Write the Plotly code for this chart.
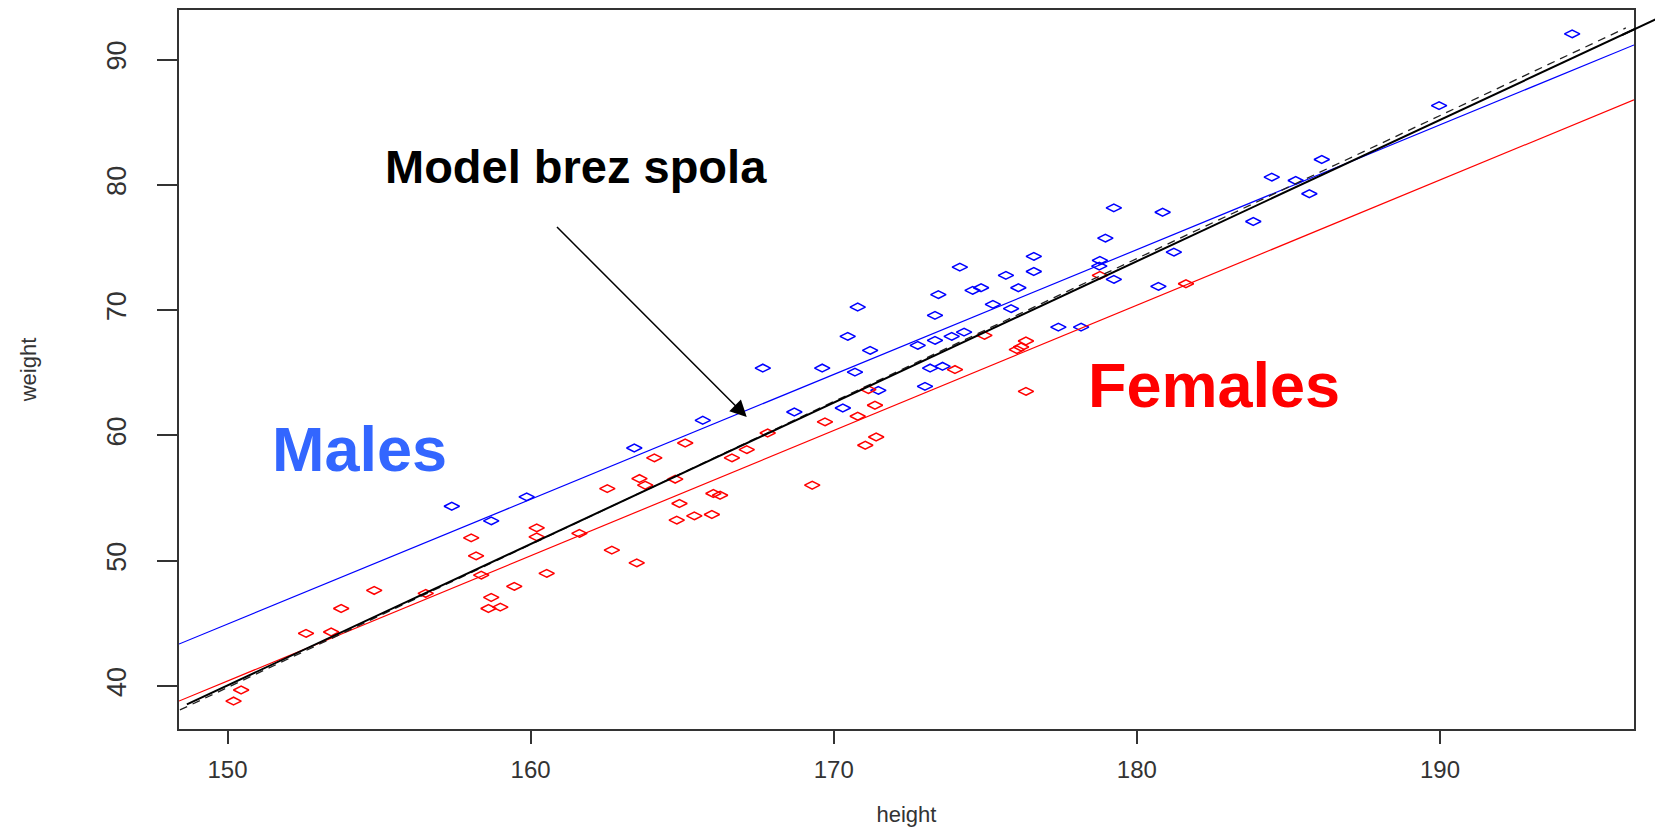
import plotly.graph_objects as go
import numpy as np

# ---------------- data ----------------
male_height = [157.40, 158.70, 159.87, 163.42, 165.68, 167.66, 169.62, 168.70, 170.70, 170.30,
               170.46, 170.79, 171.20, 171.47, 172.77, 173.34, 173.45, 173.34, 173.18, 173.59,
               173.01, 173.89, 174.30, 174.58, 174.86, 176.09, 175.25, 175.85, 177.41, 178.16,
               180.71, 174.16, 175.68, 176.60, 176.60, 179.24, 178.96, 178.78, 178.76, 180.85,
               179.24, 181.22, 183.84, 184.45, 185.24, 185.69, 186.10, 189.97, 194.36]
male_weight = [54.35, 53.18, 55.10, 59.00, 61.21, 65.38, 65.38, 61.87, 65.06, 62.19,
               67.91, 70.25, 66.79, 63.60, 67.19, 69.59, 71.24, 67.59, 65.38, 65.52,
               63.92, 67.91, 68.25, 71.58, 71.79, 71.79, 70.46, 70.12, 68.65, 68.65,
               71.90, 73.44, 72.78, 74.29, 73.09, 78.17, 75.75, 73.97, 73.52, 77.82,
               72.46, 74.63, 77.08, 80.62, 80.35, 79.29, 82.03, 86.33, 92.05]

female_height = [164.08, 162.53, 163.59, 163.78, 160.20, 160.20, 158.04, 158.20, 161.61, 162.68,
                 163.50, 160.53, 158.37, 154.84, 153.75, 152.59, 153.42, 156.54, 159.46, 158.70,
                 158.61, 159.00, 150.45, 150.20, 165.10, 164.77, 166.64, 167.13, 167.82, 164.91,
                 166.03, 166.25, 164.82, 165.40, 165.98, 169.29, 169.71, 170.79, 171.36, 171.14,
                 171.04, 171.40, 174.00, 174.97, 176.04, 176.18, 176.34, 176.34, 178.78, 181.62]
female_weight = [58.21, 55.76, 56.56, 56.03, 52.62, 51.91, 51.83, 50.39, 52.18, 50.85,
                 49.83, 48.99, 48.85, 47.63, 46.19, 44.20, 44.31, 47.39, 47.95, 47.07,
                 46.19, 46.30, 39.68, 38.80, 59.40, 56.51, 58.21, 58.87, 60.20, 54.57,
                 55.37, 55.23, 53.24, 53.58, 53.69, 56.03, 61.08, 61.53, 62.41, 63.66,
                 59.22, 59.88, 65.26, 67.99, 66.85, 67.06, 67.54, 63.52, 72.78, 72.11]

# fitted lines (end points)
male_fit_x = [148.40, 196.40]
male_fit_y = [43.35, 91.17]
female_fit_x = [148.40, 196.40]
female_fit_y = [38.80, 86.79]
dashed_fit_x = [148.43, 196.13]
dashed_fit_y = [38.09, 92.53]
common_fit_x = [148.66, 197.25]
common_fit_y = [38.54, 93.37]

x_ticks = [150, 160, 170, 180, 190]
y_ticks = [40, 50, 60, 70, 80, 90]
x_range = [148.4, 196.4]
y_range = [36.57, 93.96]

# ---------------- figure ----------------
fig = go.Figure()

marker_common = dict(symbol="diamond-wide-open", size=11)
fig.add_trace(go.Scatter(x=male_height, y=male_weight, mode="markers", name="Males",
                         marker=dict(color="#0000ff", line=dict(width=1.5, color="#0000ff"), **marker_common)))
fig.add_trace(go.Scatter(x=female_height, y=female_weight, mode="markers", name="Females",
                         marker=dict(color="#ff0000", line=dict(width=1.5, color="#ff0000"), **marker_common)))

fig.add_trace(go.Scatter(x=female_fit_x, y=female_fit_y, mode="lines",
                         line=dict(color="#ff0000", width=1.2), hoverinfo="skip"))
fig.add_trace(go.Scatter(x=male_fit_x, y=male_fit_y, mode="lines",
                         line=dict(color="#0000ff", width=1.2), hoverinfo="skip"))
fig.add_trace(go.Scatter(x=dashed_fit_x, y=dashed_fit_y, mode="lines",
                         line=dict(color="#222222", width=1.3, dash="8px,6px"), hoverinfo="skip"))
fig.add_trace(go.Scatter(x=common_fit_x, y=common_fit_y, mode="lines",
                         line=dict(color="#000000", width=2), hoverinfo="skip"))

# overhang of the solid black line beyond the frame (annotations are not clipped)
inside_x = 196.0
inside_y = float(np.interp(inside_x, common_fit_x, common_fit_y))
fig.add_annotation(x=inside_x, y=inside_y, xref="x", yref="y",
                   ax=common_fit_x[1], ay=common_fit_y[1], axref="x", ayref="y",
                   text="", showarrow=True, arrowhead=0, arrowwidth=2, arrowcolor="#000000",
                   standoff=0, startstandoff=0)

# arrow pointing to the model line
fig.add_annotation(x=167.13, y=61.47, xref="x", yref="y",
                   ax=160.82, ay=76.76, axref="x", ayref="y",
                   text="", showarrow=True, arrowhead=2, arrowsize=2.2, arrowwidth=1.5,
                   arrowcolor="#000000", standoff=0)

big_font = "Liberation Sans, Arial, sans-serif"
fig.add_annotation(x=161.50, y=81.5, xref="x", yref="y", text="<b>Model brez spola</b>",
                   showarrow=False, font=dict(family=big_font, size=47, color="#000000"),
                   xanchor="center", yanchor="middle")
fig.add_annotation(x=154.36, y=58.9, xref="x", yref="y", text="<b>Males</b>",
                   showarrow=False, font=dict(family=big_font, size=63, color="#3366ff"),
                   xanchor="center", yanchor="middle")
fig.add_annotation(x=182.56, y=64.0, xref="x", yref="y", text="<b>Females</b>",
                   showarrow=False, font=dict(family=big_font, size=63, color="#ff0000"),
                   xanchor="center", yanchor="middle")

axis_font = dict(family="Liberation Sans, Arial, sans-serif", size=24, color="#333333")

fig.update_xaxes(range=x_range, tickvals=x_ticks, ticktext=[str(v) for v in x_ticks],
                 showgrid=False, zeroline=False, showline=True, mirror=True,
                 linecolor="#333333", linewidth=2, ticks="outside", ticklen=13,
                 tickwidth=1.5, tickcolor="#333333", tickfont=axis_font,
                 ticklabelstandoff=5, automargin=False,
                 title=dict(text="height", font=dict(family=axis_font["family"], size=22, color="#333333"),
                            standoff=40))
fig.update_yaxes(range=y_range, tickvals=y_ticks, ticktext=[str(v) for v in y_ticks],
                 showgrid=False, zeroline=False, showline=True, mirror=True,
                 linecolor="#333333", linewidth=2, ticks="outside", ticklen=20,
                 tickwidth=1.5, tickcolor="#333333", tickangle=-90,
                 ticklabelstandoff=20, automargin=False,
                 tickfont=dict(family=axis_font["family"], size=27, color="#333333"),
                 title=dict(text="weight", font=dict(family=axis_font["family"], size=22, color="#333333"),
                            standoff=60))

# the page body has an 8px default margin, so the figure is sized to fit inside it
fig.update_layout(width=1647, height=819, autosize=False,
                  margin=dict(l=171, r=21, t=2, b=98),
                  paper_bgcolor="white", plot_bgcolor="white",
                  showlegend=False)

fig.write_html("out.html")
